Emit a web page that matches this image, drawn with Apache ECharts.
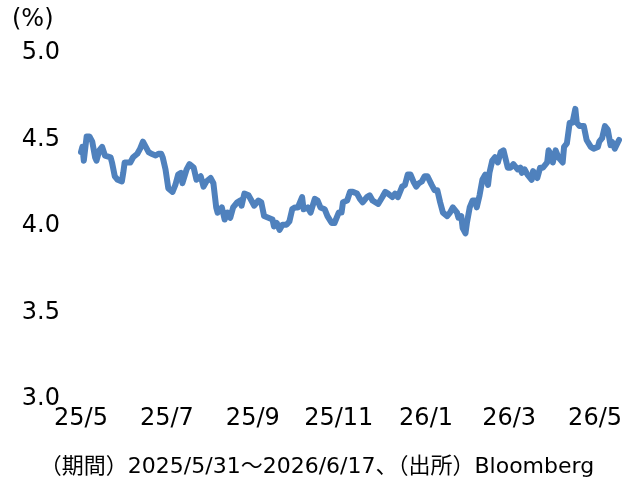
<!DOCTYPE html>
<html>
<head>
<meta charset="utf-8">
<script src="https://cdn.jsdelivr.net/npm/echarts@6/dist/echarts.min.js"></script>
<style>
html,body{margin:0;padding:0;background:#fff;}
#chart{width:634px;height:480px;}
</style>
</head>
<body>
<div id="chart"></div>
<script>
// Days since 2025/5/31
const days = [0,1,2,4,6,8,10,11,13,15,17,21,22,24,26,29,30,31,35,37,40,42,44,46,48,50,53,55,57,58,60,62,65,67,69,71,72,75,77,80,82,85,87,89,92,94,96,97,100,102,104,106,108,111,113,114,116,119,121,123,126,128,130,133,136,137,139,141,143,146,148,150,152,154,157,158,161,163,166,168,170,173,175,178,180,183,185,186,189,191,193,196,198,200,203,205,207,211,214,216,218,221,223,225,228,230,232,234,236,238,240,242,244,246,249,251,253,255,257,260,262,264,267,268,270,271,273,274,276,278,280,281,283,285,287,289,290,292,294,296,298,300,303,305,307,310,312,313,315,317,320,321,324,326,328,331,332,334,335,337,339,342,343,345,347,349,351,352,354,357,359,362,364,367,368,370,372,374,376,377,379,382];
// 10-year yield (%)
const yields = [4.41,4.44,4.36,4.50,4.50,4.47,4.38,4.36,4.42,4.44,4.39,4.38,4.35,4.27,4.25,4.24,4.29,4.35,4.35,4.38,4.40,4.43,4.47,4.44,4.41,4.40,4.39,4.40,4.40,4.38,4.31,4.20,4.18,4.22,4.28,4.29,4.23,4.31,4.34,4.32,4.25,4.27,4.21,4.24,4.26,4.23,4.09,4.06,4.09,4.02,4.06,4.03,4.09,4.12,4.13,4.10,4.17,4.16,4.13,4.10,4.13,4.12,4.04,4.03,4.02,3.98,4.00,3.96,3.99,3.99,4.01,4.08,4.09,4.09,4.15,4.08,4.09,4.06,4.14,4.13,4.09,4.08,4.04,4.00,4.00,4.06,4.06,4.12,4.13,4.18,4.18,4.17,4.14,4.12,4.15,4.16,4.13,4.11,4.15,4.18,4.17,4.15,4.17,4.15,4.21,4.22,4.28,4.28,4.24,4.21,4.23,4.24,4.27,4.27,4.22,4.19,4.19,4.12,4.06,4.04,4.06,4.09,4.06,4.03,4.04,3.97,3.94,4.00,4.09,4.13,4.13,4.09,4.16,4.25,4.28,4.22,4.29,4.36,4.38,4.35,4.41,4.42,4.32,4.32,4.34,4.31,4.32,4.29,4.31,4.28,4.25,4.30,4.26,4.32,4.32,4.35,4.42,4.39,4.35,4.42,4.38,4.35,4.44,4.46,4.58,4.58,4.66,4.58,4.56,4.56,4.48,4.44,4.43,4.44,4.47,4.49,4.56,4.54,4.45,4.47,4.43,4.48];
// x-axis tick positions (days since 2025/5/31) and labels
const tickDays = [0,61,122,183,245,304,365];
const tickLabels = ['25/5','25/7','25/9','25/11','26/1','26/3','26/5'];
const yTicks = [3.0,3.5,4.0,4.5,5.0];
const unitLabel = '(%)';
const footnote = '（期間）2025/5/31～2026/6/17、（出所）Bloomberg';

const FONT = '"DejaVu Sans", "Noto Sans CJK JP", sans-serif';
const chart = echarts.init(document.getElementById('chart'), null, {renderer:'canvas'});
chart.setOption({
  animation:false,
  backgroundColor:'#ffffff',
  grid:{left:81, right:15, top:50, bottom:84, containLabel:false},
  xAxis:{
    type:'value', min:0, max:382,
    axisLine:{show:false}, axisTick:{show:false}, splitLine:{show:false},
    axisLabel:{
      customValues:tickDays,
      formatter:function(v){ const i = tickDays.indexOf(v); return i>=0 ? tickLabels[i] : ''; },
      color:'#000', fontSize:24, fontFamily:FONT, margin:11
    }
  },
  yAxis:{
    type:'value', min:yTicks[0], max:yTicks[yTicks.length-1], interval:0.5,
    axisLine:{show:false}, axisTick:{show:false}, splitLine:{show:false},
    axisLabel:{
      formatter:function(v){return '{t|' + v.toFixed(1) + '}';},
      margin:21,
      rich:{t:{color:'#000', fontSize:24, fontFamily:FONT, padding:[6,0,0,0]}}
    }
  },
  graphic:[
    {type:'text', left:12, top:8, style:{text:unitLabel, fill:'#000', font:'24px "DejaVu Sans", sans-serif'}},
    {type:'text', left:'center', top:456, style:{text:footnote, fill:'#000', font:'22px "DejaVu Sans", "Noto Sans CJK JP", sans-serif'}}
  ],
  series:[{
    type:'line', showSymbol:false, smooth:false,
    data: days.map(function(d,i){return [d, yields[i]];}),
    lineStyle:{color:'#4f81bd', width:6, join:'round', cap:'round'}
  }]
});
</script>
</body>
</html>
